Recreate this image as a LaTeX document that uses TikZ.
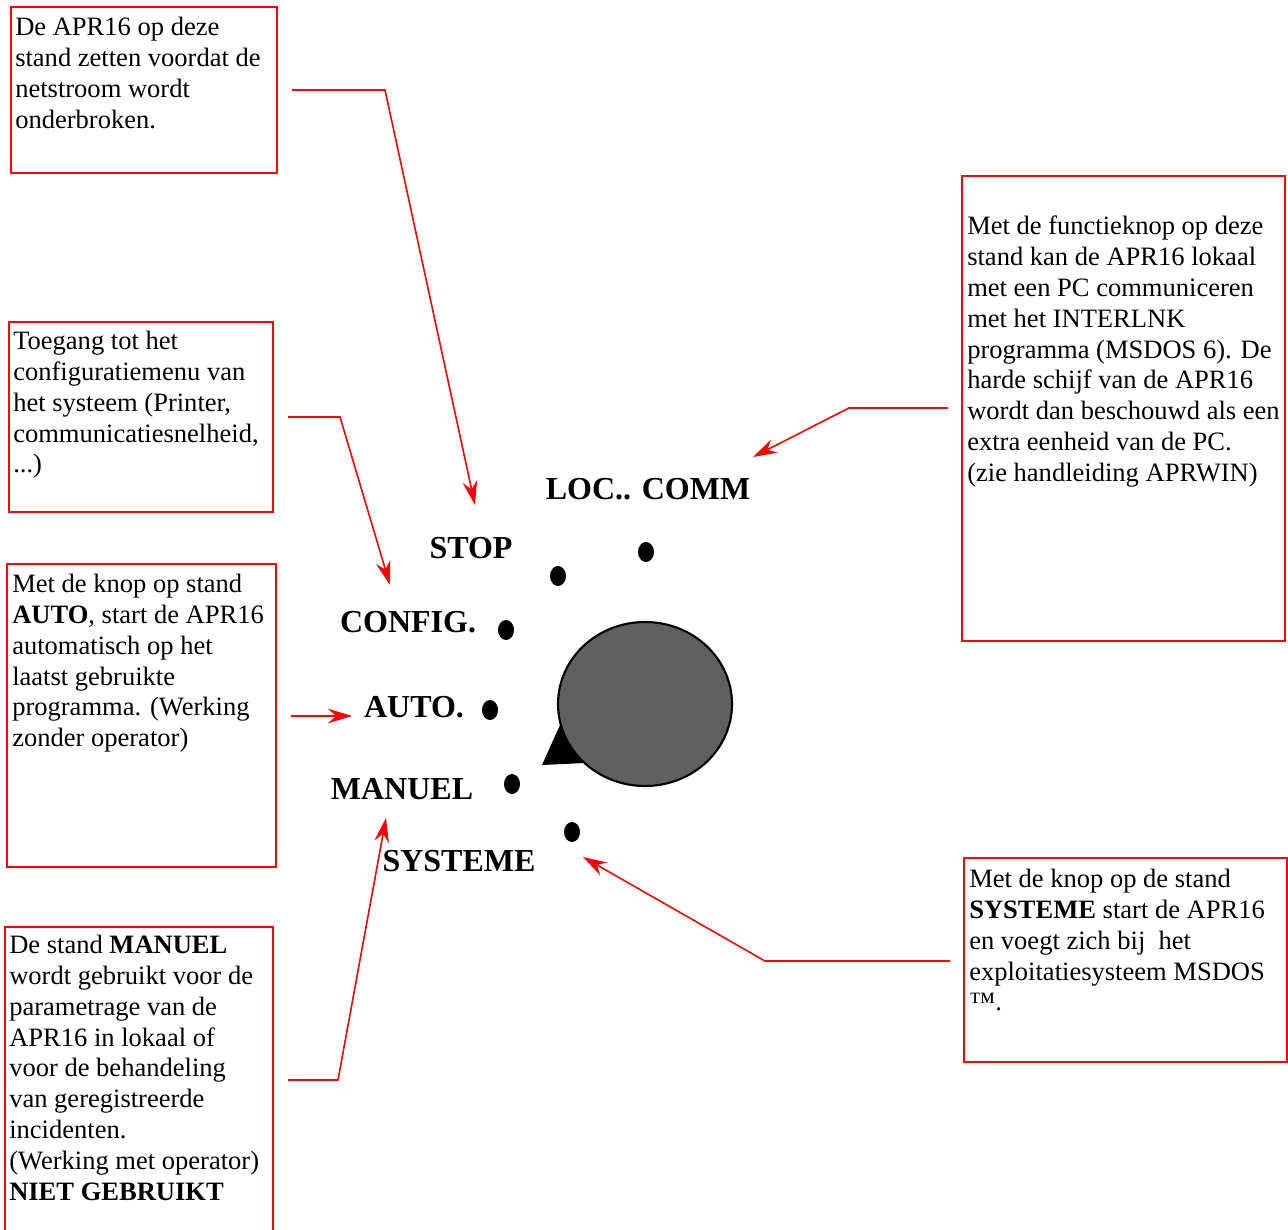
\documentclass[tikz,border=0pt]{standalone}
\usepackage{fontspec}
\setmainfont{Liberation Serif}
\usetikzlibrary{arrows.meta,fit}
\begin{document}
\begin{tikzpicture}[x=0.75pt,y=-0.75pt,
  box/.style={draw=red,line width=0.9pt,inner sep=0pt},
  btext/.style={anchor=north west,inner sep=0pt,align=left,font=\fontsize{19.9}{23.1}\selectfont},
  lbl/.style={inner sep=0pt,font=\fontsize{24}{28}\selectfont\bfseries},
  conn/.style={draw=red,line width=1.2pt,-{Stealth[length=18pt,width=11pt,inset=6pt]}},
  dot/.style={fill=black}]
\useasboundingbox (0,0) rectangle (1288,1230);
% boxes
\node[box,fit={(11,7) (277,173)}] (b1) {};
\node[box,fit={(9,322) (273,512)}] (b2) {};
\node[box,fit={(7,564) (276,867)}] (b3) {};
\draw[draw=red,line width=0.9pt] (5,1240) -- (5,927) -- (273,927) -- (273,1240);
\node[box,fit={(962,176) (1285,641)}] (b5) {};
\node[box,fit={(964,858) (1287,1062)}] (b6) {};
% box texts
\node[btext] (t1) at (15,17) {De APR16 op deze\\stand zetten voordat de\\netstroom wordt\\onderbroken.};
\node[btext] (t2) at (13,331) {Toegang tot het\\configuratiemenu van\\het systeem (Printer,\\communicatiesnelheid,\\...)};
\node[btext] (t3) at (12,574) {Met de knop op stand\\\textbf{AUTO}, start de APR16\\automatisch op het\\laatst gebruikte\\programma. (Werking\\zonder operator)};
\node[btext] (t4) at (9,935) {De stand \textbf{MANUEL}\\wordt gebruikt voor de\\parametrage van de\\APR16 in lokaal of\\voor de behandeling\\van geregistreerde\\incidenten.\\(Werking met operator)\\\textbf{NIET GEBRUIKT}};
\node[btext] (t5) at (967,216) {Met de functieknop op deze\\stand kan de APR16 lokaal\\met een PC communiceren\\met het INTERLNK\\programma (MSDOS 6). De\\harde schijf van de APR16\\wordt dan beschouwd als een\\extra eenheid van de PC.\\(zie handleiding APRWIN)};
\node[btext] (t6) at (969,869) {Met de knop op de stand\\\textbf{SYSTEME} start de APR16\\en voegt zich bij\ \ het\\exploitatiesysteem MSDOS\\™.};
% labels
\node[lbl] (loc) at (648,489) {LOC.. COMM};
\node[lbl] (stop) at (471,548) {STOP};
\node[lbl] (config) at (408,622) {CONFIG.};
\node[lbl] (auto) at (414,707) {AUTO.};
\node[lbl] (manuel) at (402,789) {MANUEL};
\node[lbl] (systeme) at (459,861) {SYSTEME};
% dots
\fill[dot] (558,576) ellipse [x radius=8,y radius=10];
\fill[dot] (646,552) ellipse [x radius=8,y radius=10];
\fill[dot] (506,630) ellipse [x radius=8,y radius=10];
\fill[dot] (490,710) ellipse [x radius=8,y radius=10];
\fill[dot] (512,784) ellipse [x radius=8,y radius=10];
\fill[dot] (572,832) ellipse [x radius=8,y radius=10];
% knob
\fill[black] (542,765) -- (560,725) -- (585,763) -- cycle;
\draw[fill={rgb,255:red,96;green,96;blue,96},line width=1.6pt] (645,704) ellipse [x radius=87,y radius=82];
% connectors
\coordinate (s1) at (292,90);
\coordinate (e1) at (475,505);
\coordinate (s2) at (288,417);
\coordinate (e2) at (390,585);
\coordinate (s3) at (291,716);
\coordinate (e3) at (352,716);
\coordinate (s4) at (288,1080);
\coordinate (e4) at (386,818);
\coordinate (s5) at (948,408);
\coordinate (e5) at (753,457);
\coordinate (s6) at (950,961);
\coordinate (e6) at (583,857);
\draw[conn] (s1) -- (385,90) -- (e1);
\draw[conn] (s2) -- (340,417) -- (e2);
\draw[conn] (s3) -- (e3);
\draw[conn] (s4) -- (338,1080) -- (e4);
\draw[conn] (s5) -- (849,408) -- (e5);
\draw[conn] (s6) -- (765,961) -- (e6);
\end{tikzpicture}
\end{document}
